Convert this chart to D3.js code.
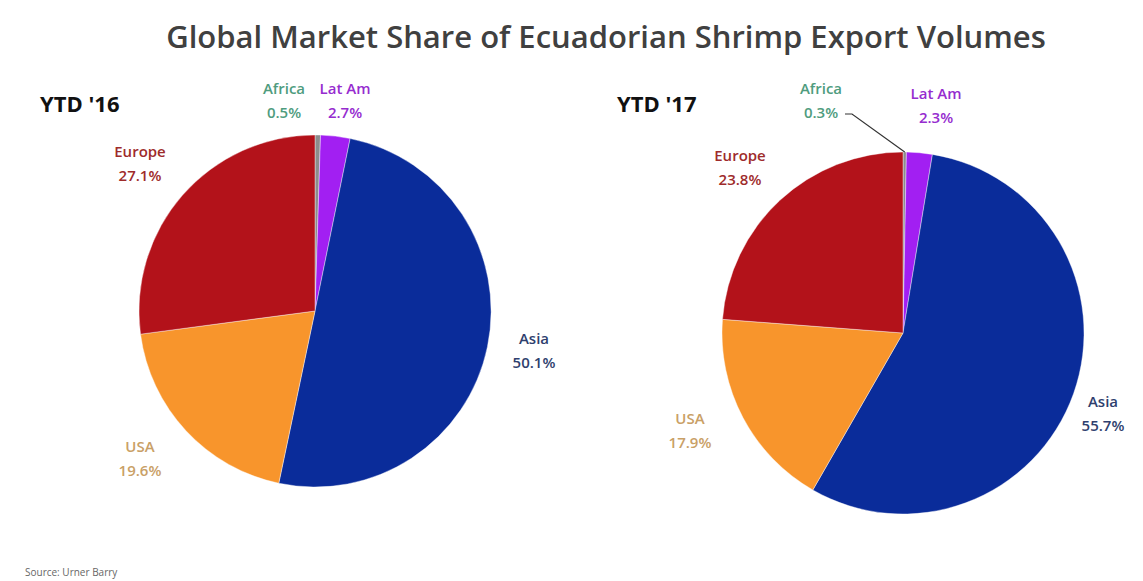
<!DOCTYPE html>
<html>
<head>
<meta charset="utf-8">
<script src="https://cdn.jsdelivr.net/npm/d3@7"></script>
<style>
  body { margin: 0; background: #fff; }
  svg { display: block; font-family: 'Open Sans', 'DejaVu Sans', sans-serif; }
</style>
</head>
<body>
<div id="chart"></div>
<script>
// data
const regions = ['Africa', 'Lat Am', 'Asia', 'USA', 'Europe'];
const share16 = [0.5, 2.7, 50.1, 19.6, 27.1];
const share17 = [0.3, 2.3, 55.7, 17.9, 23.8];
const periods = ["YTD '16", "YTD '17"];

const sliceColor = {
  'Africa': '#8c8c8c', 'Lat Am': '#a21ff2', 'Asia': '#0a2c9a',
  'USA': '#f8952c', 'Europe': '#b3121a'
};
const labelColor = {
  'Africa': '#4f9c7e', 'Lat Am': '#962ccf', 'Asia': '#2f3f6e',
  'USA': '#c9a066', 'Europe': '#9e2b2b'
};

const width = 1143, height = 581;
const svg = d3.select('#chart').append('svg')
  .attr('width', width).attr('height', height);

svg.append('text')
  .attr('x', 606).attr('y', 48)
  .attr('text-anchor', 'middle')
  .attr('font-size', 31).attr('font-weight', 600)
  .attr('fill', '#404040')
  .text('Global Market Share of Ecuadorian Shrimp Export Volumes');

// layout of the two pies; label offsets relative to pie centre
const panels = [
  { values: share16, cx: 315, cy: 311, r: 176, titleX: 40, titleY: 112,
    labels: { 'Africa': [-31, -217], 'Lat Am': [30, -217], 'Europe': [-175, -154],
              'Asia': [219, 33], 'USA': [-175, 141] } },
  { values: share17, cx: 903, cy: 333, r: 181, titleX: 617, titleY: 112,
    labels: { 'Africa': [-82, -239], 'Lat Am': [33, -234], 'Europe': [-163, -172],
              'Asia': [200, 74], 'USA': [-213, 91] },
    leader: 'Africa' }
];

const pie = d3.pie().sort(null).value(d => d.v);

panels.forEach((p, pi) => {
  const g = svg.append('g').attr('transform', `translate(${p.cx},${p.cy})`);
  const arc = d3.arc().innerRadius(0).outerRadius(p.r);
  const arcs = pie(regions.map((name, i) => ({ name, v: p.values[i] })));

  g.selectAll('path.slice').data(arcs).enter().append('path')
    .attr('class', 'slice')
    .attr('d', arc)
    .attr('fill', d => sliceColor[d.data.name])
    .attr('stroke', '#fff').attr('stroke-width', 0.4);

  svg.append('text')
    .attr('x', p.titleX).attr('y', p.titleY)
    .attr('font-size', 22).attr('font-weight', 700)
    .attr('fill', '#111')
    .text(periods[pi]);

  arcs.forEach(d => {
    const [dx, dy] = p.labels[d.data.name];
    const t = g.append('text')
      .attr('text-anchor', 'middle')
      .attr('font-size', 15).attr('font-weight', 600)
      .attr('fill', labelColor[d.data.name]);
    t.append('tspan').attr('x', dx).attr('y', dy).text(d.data.name);
    t.append('tspan').attr('x', dx).attr('y', dy + 24).text(d3.format('.1f')(d.data.v) + '%');

    if (p.leader === d.data.name) {
      const mid = (d.startAngle + d.endAngle) / 2;
      const ex = Math.sin(mid) * p.r, ey = -Math.cos(mid) * p.r;
      g.append('polyline')
        .attr('points', `${dx + 24},${dy + 20} ${dx + 31},${dy + 20} ${ex},${ey}`)
        .attr('fill', 'none').attr('stroke', '#333').attr('stroke-width', 1.2);
    }
  });
});

svg.append('text')
  .attr('x', 25).attr('y', 576)
  .attr('font-size', 10).attr('fill', '#666')
  .text('Source: Urner Barry');
</script>
</body>
</html>
